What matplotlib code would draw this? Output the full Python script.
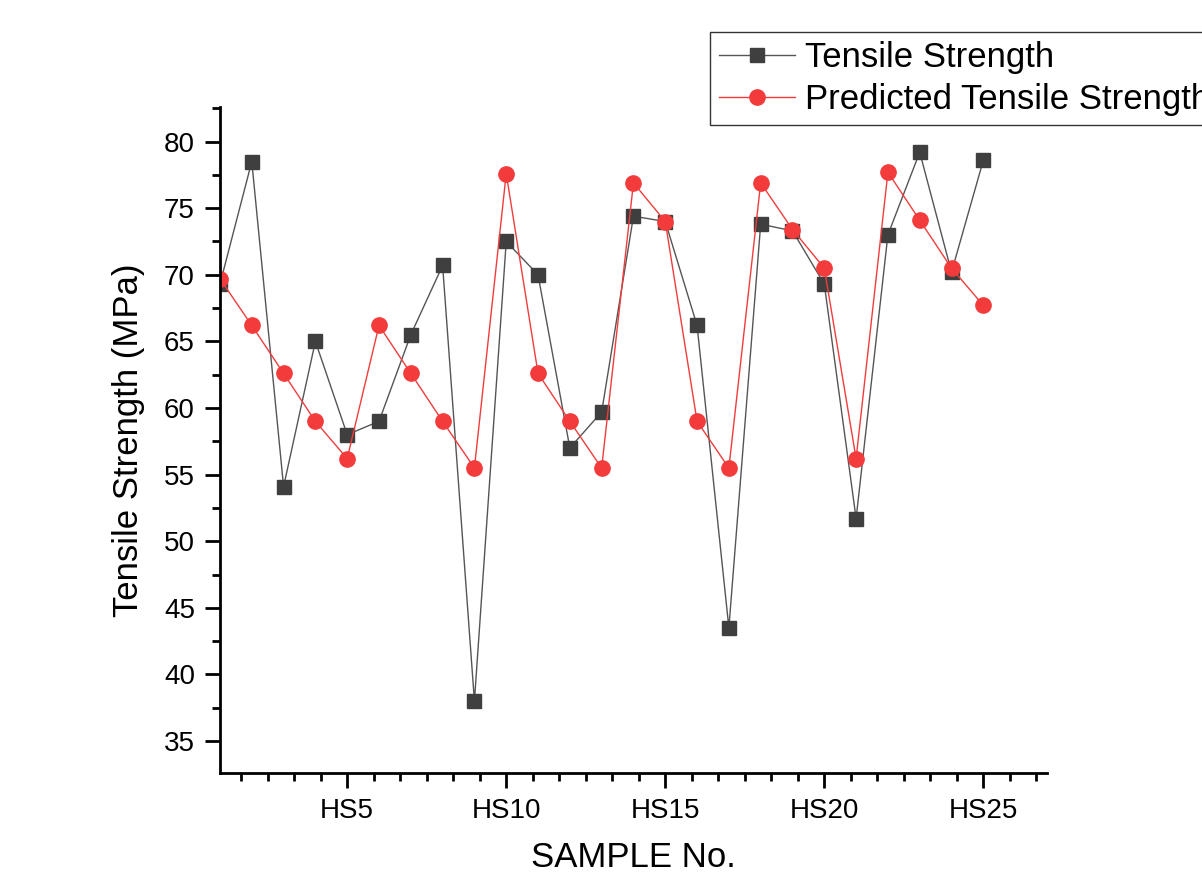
import matplotlib
matplotlib.use("Agg")
import matplotlib.pyplot as plt
from matplotlib.ticker import MultipleLocator, FixedLocator

plt.rcParams['font.family'] = ['Liberation Sans', 'DejaVu Sans']

# sample numbers 1..25
samples = list(range(1, 26))
tensile = [69.3, 78.5, 54.1, 65.0, 58.0, 59.0, 65.5, 70.7, 38.0, 72.5,
           70.0, 57.0, 59.7, 74.4, 74.0, 66.2, 43.5, 73.8, 73.3, 69.3,
           51.7, 73.0, 79.2, 70.2, 78.6]
predicted = [69.7, 66.2, 62.6, 59.0, 56.2, 66.2, 62.6, 59.0, 55.5, 77.6,
             62.6, 59.0, 55.5, 76.9, 74.0, 59.0, 55.5, 76.9, 73.4, 70.5,
             56.2, 77.7, 74.1, 70.5, 67.7]
tick_pos = [5, 10, 15, 20, 25]
tick_labels = ["HS5", "HS10", "HS15", "HS20", "HS25"]

fig = plt.figure(figsize=(12.02, 8.73), dpi=100)
ax = fig.add_axes([0.183, 0.1145, 0.688, 0.763])

l1, = ax.plot(samples, tensile, color='#555555', lw=1.0, marker='s', ms=10,
              markerfacecolor='#3f3f3f', markeredgecolor='#3f3f3f', label='Tensile Strength')
l2, = ax.plot(samples, predicted, color='#f03c3c', lw=1.0, marker='o', ms=11,
              markerfacecolor='#f43b3b', markeredgecolor='#f43b3b', label='Predicted Tensile Strength')

ax.set_xlim(1, 27)
ax.set_ylim(32.6, 82.6)

ax.xaxis.set_major_locator(FixedLocator(tick_pos))
ax.set_xticklabels(tick_labels)
ax.xaxis.set_minor_locator(MultipleLocator(5 / 6))
ax.yaxis.set_major_locator(MultipleLocator(5))
ax.yaxis.set_minor_locator(MultipleLocator(2.5))

for s in ['top', 'right']:
    ax.spines[s].set_visible(False)
for s in ['left', 'bottom']:
    ax.spines[s].set_linewidth(2.0)

ax.tick_params(axis='both', which='major', length=11, width=2, labelsize=20, pad=7)
ax.tick_params(axis='both', which='minor', length=6, width=2)

ax.set_xlabel('SAMPLE No.', fontsize=25, labelpad=12)
ax.set_ylabel('Tensile Strength (MPa)', fontsize=25, labelpad=14)

# legend sits partly off the right edge, like the original
leg = fig.legend(handles=[l1, l2], loc='upper left',
                 bbox_to_anchor=(710 / 1202, 1 - 32 / 873),
                 fontsize=25, frameon=True, fancybox=False, edgecolor='black',
                 handlelength=2.2, handletextpad=0.3, borderpad=0.25,
                 labelspacing=0.28, borderaxespad=0)
leg.get_frame().set_linewidth(1.0)

fig.savefig('out.png', dpi=100)
